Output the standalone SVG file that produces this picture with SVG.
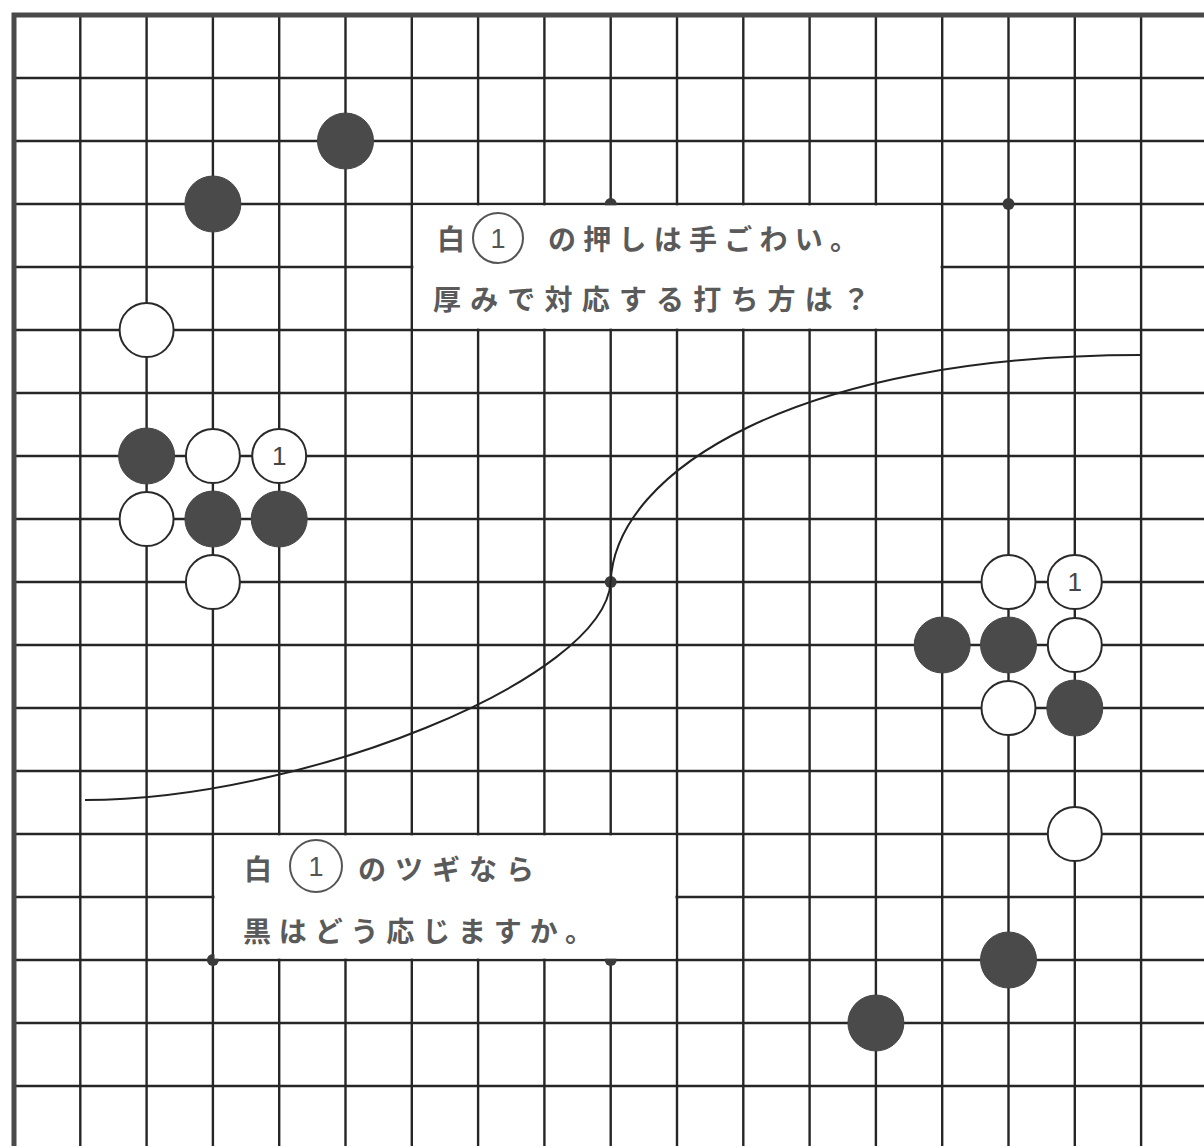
<svg xmlns="http://www.w3.org/2000/svg" width="1204" height="1146" viewBox="0 0 1204 1146">
<style>
.grid{stroke:#262626;stroke-width:2.4;fill:none}
.border{stroke:#4a4a4a;stroke-width:5;fill:none}
.star{fill:#3a3a3a}
.b{fill:#4a4a4a;stroke:#444;stroke-width:1}
.w{fill:#fff;stroke:#2a2a2a;stroke-width:2}
.num{font-family:"Liberation Sans",Arial,sans-serif;font-size:26px;fill:#444;text-anchor:middle}
.box{fill:#fff}
.txt{font-family:"Noto Sans CJK JP","Noto Sans",sans-serif;font-size:28px;font-weight:bold;fill:#5a5a5a}
.tc{fill:none;stroke:#555;stroke-width:2}
.tn{font-family:"Liberation Sans",Arial,sans-serif;font-size:27px;fill:#555;text-anchor:middle}
.curve{fill:none;stroke:#222;stroke-width:2}
</style>
<rect width="1204" height="1146" fill="#fff"/>
<g id="board">
<path class="grid" d="M80.3 15V1146M146.6 15V1146M212.9 15V1146M279.2 15V1146M345.5 15V1146M411.8 15V1146M478.1 15V1146M544.4 15V1146M610.7 15V1146M677 15V1146M743.3 15V1146M809.6 15V1146M875.9 15V1146M942.2 15V1146M1008.5 15V1146M1074.8 15V1146M1141.1 15V1146"/>
<path class="grid" d="M14 78H1204M14 141H1204M14 204H1204M14 267H1204M14 330H1204M14 393H1204M14 456H1204M14 519H1204M14 582H1204M14 645H1204M14 708H1204M14 771H1204M14 834H1204M14 897H1204M14 960H1204M14 1023H1204M14 1086H1204"/>
<path class="border" d="M14 1146V15H1204"/>
<circle class="star" cx="610.7" cy="204" r="6"/>
<circle class="star" cx="1008.5" cy="204" r="6"/>
<circle class="star" cx="610.7" cy="582" r="6"/>
<circle class="star" cx="212.9" cy="960" r="6"/>
<circle class="star" cx="610.7" cy="960" r="6"/>
</g>
<g id="connectors">
<path class="curve" d="M85 800C300 800 604 680 610.7 582C615 470 800 355 1141 355"/>
</g>
<g id="box-top">
<rect class="box" x="413.4" y="205.4" width="527.2" height="123.2"/>
<text class="txt" x="437" y="250">白</text>
<circle class="tc" cx="498" cy="238" r="25"/>
<text class="tn" x="498" y="248">1</text>
<text class="txt" x="548" y="250" textLength="310" lengthAdjust="spacing">の押しは手ごわい。</text>
<text class="txt" x="433" y="310" textLength="437" lengthAdjust="spacing">厚みで対応する打ち方は？</text>
</g>
<g id="box-bottom">
<rect class="box" x="214.5" y="835.4" width="460.9" height="123.2"/>
<text class="txt" x="244" y="880">白</text>
<circle class="tc" cx="316" cy="866" r="26"/>
<text class="tn" x="316" y="876">1</text>
<text class="txt" x="358" y="880" textLength="176" lengthAdjust="spacing">のツギなら</text>
<text class="txt" x="243" y="942" textLength="350" lengthAdjust="spacing">黒はどう応じますか。</text>
</g>
<g id="stone-b-6-3"><circle class="b" cx="345.5" cy="141" r="28"/></g>
<g id="stone-b-4-4"><circle class="b" cx="212.9" cy="204" r="28"/></g>
<g id="stone-w-3-6"><circle class="w" cx="146.6" cy="330" r="27"/></g>
<g id="stone-b-3-8"><circle class="b" cx="146.6" cy="456" r="28"/></g>
<g id="stone-w-4-8"><circle class="w" cx="212.9" cy="456" r="27"/></g>
<g id="stone-w-5-8"><circle class="w" cx="279.2" cy="456" r="27"/><text class="num" x="279.2" y="465">1</text></g>
<g id="stone-w-3-9"><circle class="w" cx="146.6" cy="519" r="27"/></g>
<g id="stone-b-4-9"><circle class="b" cx="212.9" cy="519" r="28"/></g>
<g id="stone-b-5-9"><circle class="b" cx="279.2" cy="519" r="28"/></g>
<g id="stone-w-4-10"><circle class="w" cx="212.9" cy="582" r="27"/></g>
<g id="stone-w-16-10"><circle class="w" cx="1008.5" cy="582" r="27"/></g>
<g id="stone-w-17-10"><circle class="w" cx="1074.8" cy="582" r="27"/><text class="num" x="1074.8" y="591">1</text></g>
<g id="stone-b-15-11"><circle class="b" cx="942.2" cy="645" r="28"/></g>
<g id="stone-b-16-11"><circle class="b" cx="1008.5" cy="645" r="28"/></g>
<g id="stone-w-17-11"><circle class="w" cx="1074.8" cy="645" r="27"/></g>
<g id="stone-w-16-12"><circle class="w" cx="1008.5" cy="708" r="27"/></g>
<g id="stone-b-17-12"><circle class="b" cx="1074.8" cy="708" r="28"/></g>
<g id="stone-w-17-14"><circle class="w" cx="1074.8" cy="834" r="27"/></g>
<g id="stone-b-16-16"><circle class="b" cx="1008.5" cy="960" r="28"/></g>
<g id="stone-b-14-17"><circle class="b" cx="875.9" cy="1023" r="28"/></g>
</svg>
